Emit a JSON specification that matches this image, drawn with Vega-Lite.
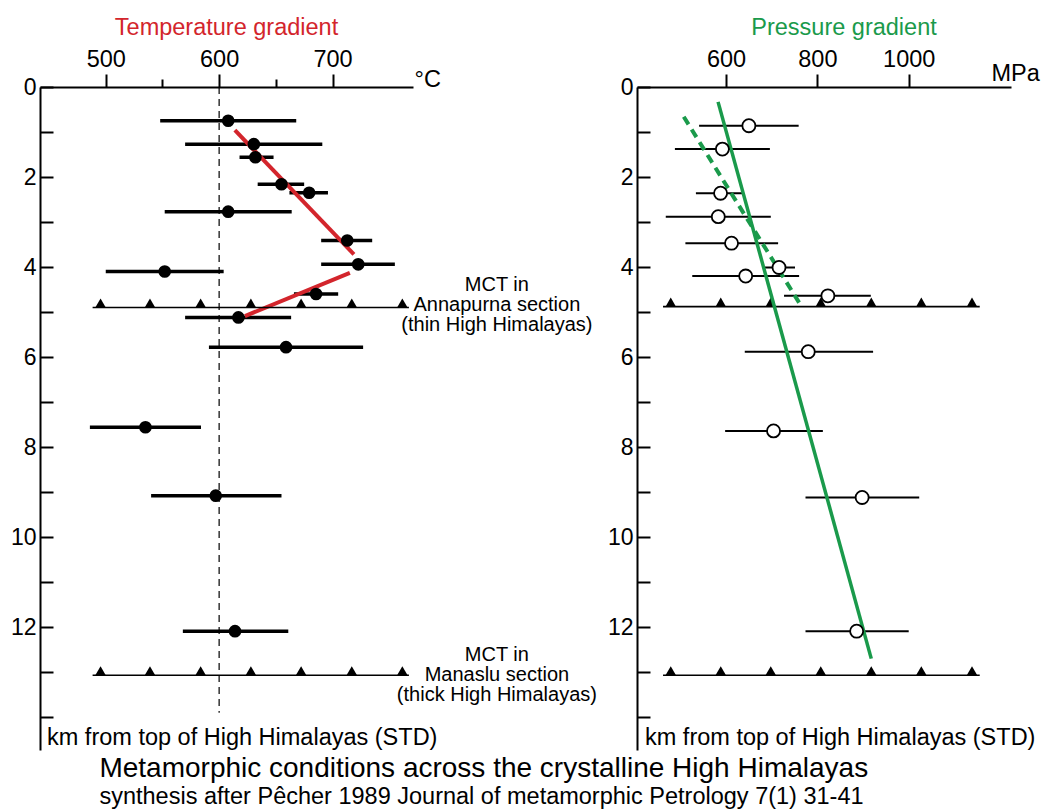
{
  "$schema": "https://vega.github.io/schema/vega-lite/v6.json",
  "padding": {"left": 10, "top": 15, "right": 4, "bottom": 4},
  "background": "white",
  "title": {
    "text": "Metamorphic conditions across the crystalline High Himalayas",
    "subtitle": "synthesis after Pêcher 1989 Journal of metamorphic Petrology 7(1) 31-41",
    "orient": "bottom",
    "anchor": "start",
    "dx": 89,
    "offset": 5,
    "font": "Liberation Sans",
    "fontSize": 28,
    "fontWeight": "normal",
    "color": "black",
    "subtitleFont": "Liberation Sans",
    "subtitleFontSize": 23.5,
    "subtitleColor": "black",
    "subtitlePadding": 2
  },
  "datasets": {
    "temp": [
      {"depth": 0.75, "T": 608, "lo": 548, "hi": 668},
      {"depth": 1.27, "T": 630.6, "lo": 570, "hi": 691},
      {"depth": 1.56, "T": 632, "lo": 618, "hi": 648},
      {"depth": 2.16, "T": 655, "lo": 634, "hi": 675},
      {"depth": 2.35, "T": 679.4, "lo": 662, "hi": 696},
      {"depth": 2.77, "T": 608, "lo": 552, "hi": 664},
      {"depth": 3.41, "T": 713, "lo": 690, "hi": 735},
      {"depth": 3.94, "T": 722.7, "lo": 690, "hi": 755},
      {"depth": 4.1, "T": 552, "lo": 500, "hi": 604},
      {"depth": 4.6, "T": 685.5, "lo": 666, "hi": 705},
      {"depth": 5.12, "T": 617, "lo": 570, "hi": 663.5},
      {"depth": 5.78, "T": 659, "lo": 591, "hi": 727},
      {"depth": 7.56, "T": 535, "lo": 486, "hi": 584},
      {"depth": 9.08, "T": 597, "lo": 540, "hi": 655},
      {"depth": 12.09, "T": 614, "lo": 568, "hi": 661}
    ],
    "press": [
      {"depth": 0.86, "P": 650, "lo": 541, "hi": 759},
      {"depth": 1.38, "P": 592, "lo": 488, "hi": 696},
      {"depth": 2.36, "P": 588, "lo": 534, "hi": 639},
      {"depth": 2.88, "P": 583, "lo": 468, "hi": 698},
      {"depth": 3.47, "P": 612, "lo": 511, "hi": 714},
      {"depth": 4.01, "P": 716, "lo": 682, "hi": 751},
      {"depth": 4.2, "P": 643, "lo": 526, "hi": 760},
      {"depth": 4.64, "P": 823, "lo": 727, "hi": 917},
      {"depth": 5.88, "P": 780, "lo": 641, "hi": 922},
      {"depth": 7.64, "P": 704, "lo": 598, "hi": 812},
      {"depth": 9.12, "P": 898, "lo": 774, "hi": 1023},
      {"depth": 12.09, "P": 886, "lo": 774, "hi": 1000}
    ],
    "tline": [
      {"seg": 1, "T": 613.9, "depth": 0.96},
      {"seg": 1, "T": 718.9, "depth": 3.72},
      {"seg": 2, "T": 715.3, "depth": 4.13},
      {"seg": 2, "T": 622.7, "depth": 5.09}
    ],
    "psolid": [
      {"P": 582.5, "depth": 0.33},
      {"P": 918, "depth": 12.7}
    ],
    "pdash": [
      {"P": 507.4, "depth": 0.66},
      {"P": 760, "depth": 4.79}
    ],
    "mctT": [
      {"section": "Annapurna", "depth": 4.9, "x0": 488.4, "x1": 767.4},
      {"section": "Manaslu", "depth": 13.07, "x0": 488.4, "x1": 767.4}
    ],
    "triT": [
      {"depth": 4.9, "T": 495.4}, {"depth": 4.9, "T": 539}, {"depth": 4.9, "T": 583.7}, {"depth": 4.9, "T": 628}, {"depth": 4.9, "T": 672.3}, {"depth": 4.9, "T": 717}, {"depth": 4.9, "T": 761.6},
      {"depth": 13.07, "T": 495.4}, {"depth": 13.07, "T": 539}, {"depth": 13.07, "T": 583.7}, {"depth": 13.07, "T": 628}, {"depth": 13.07, "T": 672.3}, {"depth": 13.07, "T": 717}, {"depth": 13.07, "T": 761.6}
    ],
    "mctP": [
      {"section": "Annapurna", "depth": 4.88, "x0": 462, "x1": 1155.5},
      {"section": "Manaslu", "depth": 13.07, "x0": 462, "x1": 1155.5}
    ],
    "triP": [
      {"depth": 4.88, "P": 478.9}, {"depth": 4.88, "P": 588.4}, {"depth": 4.88, "P": 697.9}, {"depth": 4.88, "P": 807.4}, {"depth": 4.88, "P": 918}, {"depth": 4.88, "P": 1027.6}, {"depth": 4.88, "P": 1138.6},
      {"depth": 13.07, "P": 478.9}, {"depth": 13.07, "P": 588.4}, {"depth": 13.07, "P": 697.9}, {"depth": 13.07, "P": 807.4}, {"depth": 13.07, "P": 918}, {"depth": 13.07, "P": 1027.6}, {"depth": 13.07, "P": 1138.6}
    ],
    "notes": [
      {"T": 845, "depth": 4.4, "text": "MCT in"},
      {"T": 845, "depth": 4.84, "text": "Annapurna section"},
      {"T": 845, "depth": 5.29, "text": "(thin High Himalayas)"},
      {"T": 845, "depth": 12.62, "text": "MCT in"},
      {"T": 845, "depth": 13.07, "text": "Manaslu section"},
      {"T": 845, "depth": 13.51, "text": "(thick High Himalayas)"}
    ],
    "kmT": [{"T": 442, "depth": 14.47, "text": "km from top of High Himalayas (STD)"}],
    "kmP": [{"P": 405, "depth": 14.47, "text": "km from top of High Himalayas (STD)"}],
    "vline": [{"T": 600, "d0": 0, "d1": 13.9}]
  },
  "hconcat": [
    {
      "width": 373,
      "height": 663,
      "title": {"text": "Temperature gradient", "color": "#d3252c", "fontSize": 23.5, "fontWeight": "normal", "font": "Liberation Sans", "offset": 8},
      "resolve": {"axis": {"x": "independent"}},
      "layer": [
        {
          "data": {"name": "vline"},
          "mark": {"type": "rule", "strokeDash": [7, 5], "strokeWidth": 1.2, "color": "black"},
          "encoding": {
            "x": {"field": "T", "type": "quantitative", "scale": {"domain": [442, 771], "nice": false, "zero": false},
              "axis": {"orient": "top", "values": [500, 600, 700], "format": "d", "tickSize": 13, "labelPadding": 3, "labelFontSize": 23.5, "title": "°C", "titleX": 374, "titleY": -1, "titleAlign": "left", "titleBaseline": "alphabetic", "titleAngle": 0, "titleFontSize": 23.5, "titleAnchor": null}},
            "y": {"field": "d0", "type": "quantitative", "scale": {"domain": [0, 14.73], "reverse": true, "nice": false, "zero": false},
              "axis": {"orient": "left", "values": [0, 1, 2, 3, 4, 5, 6, 7, 8, 9, 10, 11, 12, 13, 14], "tickSize": -13, "labelPadding": 17, "labelFontSize": 23, "labelExpr": "datum.value % 2 === 0 && datum.value <= 12 ? datum.value : ''", "title": null}},
            "y2": {"field": "d1"}
          }
        },
        {
          "data": {"name": "temp"},
          "mark": {"type": "rule", "strokeWidth": 3.5, "color": "black"},
          "encoding": {
            "x": {"field": "lo", "type": "quantitative", "axis": {"orient": "top", "values": [550, 650], "tickSize": 8, "labels": false, "domain": false, "title": null}},
            "x2": {"field": "hi"},
            "y": {"field": "depth", "type": "quantitative"}
          }
        },
        {
          "data": {"name": "tline"},
          "mark": {"type": "line", "strokeWidth": 4, "color": "#d3252c"},
          "encoding": {
            "x": {"field": "T", "type": "quantitative", "axis": null},
            "y": {"field": "depth", "type": "quantitative"},
            "detail": {"field": "seg"}
          }
        },
        {
          "data": {"name": "temp"},
          "mark": {"type": "point", "filled": true, "size": 160, "color": "black", "opacity": 1},
          "encoding": {
            "x": {"field": "T", "type": "quantitative", "axis": null},
            "y": {"field": "depth", "type": "quantitative"}
          }
        },
        {
          "data": {"name": "mctT"},
          "mark": {"type": "rule", "strokeWidth": 1.6, "color": "black"},
          "encoding": {
            "x": {"field": "x0", "type": "quantitative", "axis": null},
            "x2": {"field": "x1"},
            "y": {"field": "depth", "type": "quantitative"}
          }
        },
        {
          "data": {"name": "triT"},
          "mark": {"type": "point", "shape": "triangle-up", "filled": true, "size": 110, "color": "black", "opacity": 1, "yOffset": -4.5},
          "encoding": {
            "x": {"field": "T", "type": "quantitative", "axis": null},
            "y": {"field": "depth", "type": "quantitative"}
          }
        },
        {
          "data": {"name": "notes"},
          "mark": {"type": "text", "fontSize": 20, "font": "Liberation Sans", "align": "center", "baseline": "middle", "color": "black"},
          "encoding": {
            "x": {"field": "T", "type": "quantitative", "axis": null},
            "y": {"field": "depth", "type": "quantitative"},
            "text": {"field": "text"}
          }
        },
        {
          "data": {"name": "kmT"},
          "mark": {"type": "text", "fontSize": 23.5, "font": "Liberation Sans", "align": "left", "baseline": "middle", "dx": 7, "color": "black"},
          "encoding": {
            "x": {"field": "T", "type": "quantitative", "axis": null},
            "y": {"field": "depth", "type": "quantitative"},
            "text": {"field": "text"}
          }
        }
      ]
    },
    {
      "width": 374,
      "height": 663,
      "title": {"text": "Pressure gradient", "color": "#1a9a4b", "fontSize": 23.5, "fontWeight": "normal", "font": "Liberation Sans", "offset": 8, "dx": 20},
      "layer": [
        {
          "data": {"name": "press"},
          "mark": {"type": "rule", "strokeWidth": 2, "color": "black"},
          "encoding": {
            "x": {"field": "lo", "type": "quantitative", "scale": {"domain": [405, 1224], "nice": false, "zero": false},
              "axis": {"orient": "top", "values": [600, 800, 1000], "format": "d", "tickSize": 13, "labelPadding": 3, "labelFontSize": 23.5, "title": "MPa", "titleX": 354, "titleY": -7, "titleAlign": "left", "titleBaseline": "alphabetic", "titleAngle": 0, "titleFontSize": 23.5, "titleAnchor": null}},
            "x2": {"field": "hi"},
            "y": {"field": "depth", "type": "quantitative", "scale": {"domain": [0, 14.73], "reverse": true, "nice": false, "zero": false},
              "axis": {"orient": "left", "values": [0, 1, 2, 3, 4, 5, 6, 7, 8, 9, 10, 11, 12, 13, 14], "tickSize": -13, "labelPadding": 17, "labelFontSize": 23, "labelExpr": "datum.value % 2 === 0 && datum.value <= 12 ? datum.value : ''", "title": null}}
          }
        },
        {
          "data": {"name": "mctP"},
          "mark": {"type": "rule", "strokeWidth": 1.6, "color": "black"},
          "encoding": {
            "x": {"field": "x0", "type": "quantitative"},
            "x2": {"field": "x1"},
            "y": {"field": "depth", "type": "quantitative"}
          }
        },
        {
          "data": {"name": "triP"},
          "mark": {"type": "point", "shape": "triangle-up", "filled": true, "size": 110, "color": "black", "opacity": 1, "yOffset": -4.5},
          "encoding": {
            "x": {"field": "P", "type": "quantitative"},
            "y": {"field": "depth", "type": "quantitative"}
          }
        },
        {
          "data": {"name": "pdash"},
          "mark": {"type": "line", "strokeWidth": 4, "color": "#1a9a4b", "strokeDash": [9, 6]},
          "encoding": {
            "x": {"field": "P", "type": "quantitative"},
            "y": {"field": "depth", "type": "quantitative"}
          }
        },
        {
          "data": {"name": "psolid"},
          "mark": {"type": "line", "strokeWidth": 3.5, "color": "#1a9a4b"},
          "encoding": {
            "x": {"field": "P", "type": "quantitative"},
            "y": {"field": "depth", "type": "quantitative"}
          }
        },
        {
          "data": {"name": "press"},
          "mark": {"type": "point", "filled": false, "fill": "white", "fillOpacity": 1, "size": 170, "stroke": "black", "strokeWidth": 1.8, "opacity": 1},
          "encoding": {
            "x": {"field": "P", "type": "quantitative"},
            "y": {"field": "depth", "type": "quantitative"}
          }
        },
        {
          "data": {"name": "kmP"},
          "mark": {"type": "text", "fontSize": 23.5, "font": "Liberation Sans", "align": "left", "baseline": "middle", "dx": 8, "color": "black"},
          "encoding": {
            "x": {"field": "P", "type": "quantitative"},
            "y": {"field": "depth", "type": "quantitative"},
            "text": {"field": "text"}
          }
        }
      ]
    }
  ],
  "spacing": 224,
  "bounds": "flush",
  "config": {
    "font": "Liberation Sans",
    "view": {"stroke": null},
    "axis": {
      "labelFont": "Liberation Sans",
      "labelColor": "black",
      "domainColor": "black",
      "domainWidth": 2,
      "tickColor": "black",
      "tickWidth": 2,
      "grid": false,
      "titleFont": "Liberation Sans",
      "titleColor": "black",
      "titleFontWeight": "normal"
    }
  }
}
